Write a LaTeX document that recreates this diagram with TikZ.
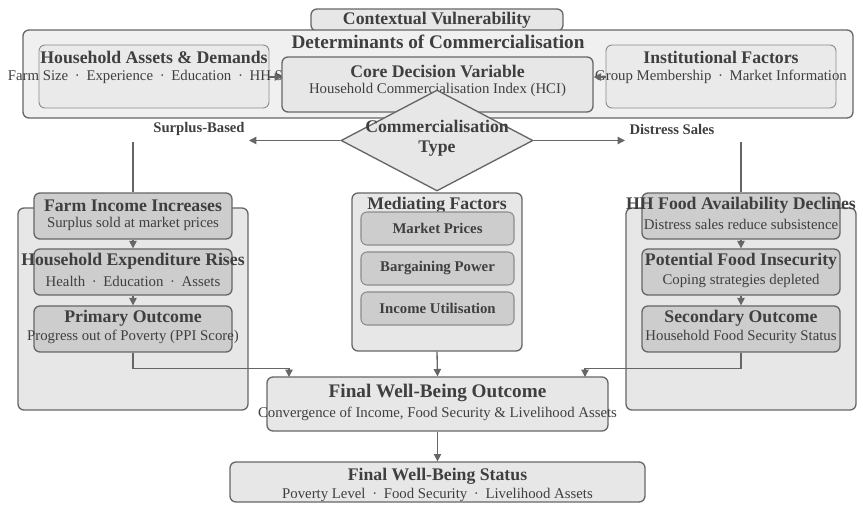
\documentclass[tikz,border=0pt]{standalone}
\usepackage{fontspec}
\setmainfont{Liberation Serif}
\usetikzlibrary{shapes.geometric, arrows.meta, positioning, calc}

\definecolor{edgegray}{HTML}{666666}
\definecolor{softgray}{HTML}{8C8C8C}
\definecolor{inkgray}{HTML}{3F3F3F}
\definecolor{panelfill}{HTML}{F0F0F0}
\definecolor{groupfill}{HTML}{E7E7E7}
\definecolor{stepfill}{HTML}{CDCDCD}

\newcommand{\dotsep}{\hspace{0.45em}·\hspace{0.45em}}

\begin{document}
\begin{tikzpicture}[x=0.75pt, y=-0.75pt,
    >={Triangle[length=5.5pt, width=5.5pt]},
    box/.style={draw=edgegray, line width=1pt, rounded corners=4.5pt, inner sep=0pt, fill=groupfill},
    softbox/.style={box, draw=softgray, line width=0.7pt, fill=groupfill!70!panelfill},
    stepbox/.style={box, fill=stepfill, minimum width=148.5pt, minimum height=34.5pt},
    medbox/.style={box, line width=0.8pt, draw=softgray, fill=stepfill, minimum width=114.75pt, minimum height=24.75pt,
        font=\fontsize{11.1}{13}\selectfont\bfseries, text=inkgray},
    bigtitle/.style={font=\fontsize{14.4}{16}\selectfont\bfseries, text=inkgray, inner sep=0pt, yshift=-1.2pt},
    title/.style={font=\fontsize{13.3}{15}\selectfont\bfseries, text=inkgray, inner sep=0pt, align=center, yshift=-1.2pt},
    sub/.style={font=\fontsize{11.1}{13}\selectfont, text=inkgray, inner sep=0pt, yshift=-1.5pt},
    branch/.style={font=\fontsize{11}{13}\selectfont\bfseries, text=inkgray, inner sep=0pt, yshift=-1pt},
    link/.style={draw=edgegray, line width=1pt}]

    \useasboundingbox (0,0) rectangle (863,505);

    % top band
    \node[box, minimum width=189pt, minimum height=16.5pt] (ctx) at (437,20) {};
    \node[title] (ctx-t) at (437,19) {Contextual Vulnerability};
    \node[box, fill=panelfill, minimum width=622.5pt, minimum height=66pt] (det) at (438,74) {};
    \node[bigtitle] (det-t) at (438,40) {Determinants of Commercialisation};

    \node[softbox, minimum width=172.5pt, minimum height=47.25pt] (assets) at (154,76.5) {};
    \node[title] (assets-t) at (154,56) {Household Assets \& Demands};
    \node[sub] (assets-s) at (154,75) {Farm Size\dotsep Experience\dotsep Education\dotsep HH Size};
    \node[softbox, minimum width=172.5pt, minimum height=47.25pt] (inst) at (721,76.5) {};
    \node[title] (inst-t) at (721,56) {Institutional Factors};
    \node[sub] (inst-s) at (721,75) {Group Membership\dotsep Market Information};

    \draw[link, ->] (assets.east |- assets-s) -- (assets-s -| 282,0);
    \node[box, minimum width=233.25pt, minimum height=41.25pt] (core) at (437.5,84.5) {};
    \node[title] (core-t) at (437.5,70) {Core Decision Variable};
    \node[sub] (core-s) at (437.5,88) {Household Commercialisation Index (HCI)};
    \draw[link, ->] (inst.west |- inst-s) -- (core.east |- inst-s);

    % decision split
    \node[diamond, draw=edgegray, line width=1pt, fill=groupfill, inner sep=0pt,
        minimum width=144pt, minimum height=75.75pt] (ctype) at (437,140.5) {};
    \node[title] (ctype-t) at (437,137) {Commercialisation\\Type};
    \coordinate (sb) at (249,140.5);
    \coordinate (ds) at (625,140.5);
    \draw[link, ->] (ctype.west) -- (sb);
    \draw[link, ->] (ctype.east) -- (ds);
    \node[branch] (sb-t) at (199,128) {Surplus-Based};
    \node[branch] (ds-t) at (672,128) {Distress Sales};
    \coordinate (sbtop) at (133,142);
    \coordinate (dstop) at (741,142);

    % surplus pathway
    \node[box, minimum width=172.5pt, minimum height=151.5pt] (lgrp) at (133,309) {};
    \node[stepbox] (farm) at (133,216) {};
    \node[title] (farm-t) at (133,204) {Farm Income Increases};
    \node[sub] (farm-s) at (133,222) {Surplus sold at market prices};
    \node[stepbox] (exp) at (133,272) {};
    \node[title] (exp-t) at (133,260) {Household Expenditure Rises};
    \node[sub] (exp-s) at (133,279) {Health\dotsep Education\dotsep Assets};
    \node[stepbox] (prim) at (133,329) {};
    \node[title] (prim-t) at (133,317) {Primary Outcome};
    \node[sub] (prim-s) at (133,335) {Progress out of Poverty (PPI Score)};
    \draw[link] (sbtop) -- (farm.north);
    \draw[link, ->] (farm.south) -- (exp.north);
    \draw[link, ->] (exp.south) -- (prim.north);

    % mediating factors
    \node[box, minimum width=127.5pt, minimum height=118.5pt] (med) at (437,272) {};
    \node[title] (med-t) at (437,204) {Mediating Factors};
    \node[medbox] (mp) at (437.5,228.5) {Market Prices};
    \node[medbox] (bp) at (437.5,268.5) {Bargaining Power};
    \node[medbox] (iu) at (437.5,308.5) {Income Utilisation};

    % distress pathway
    \node[box, minimum width=172.5pt, minimum height=151.5pt] (rgrp) at (741,309) {};
    \node[stepbox] (hhf) at (741,216) {};
    \node[title] (hhf-t) at (741,204) {HH Food Availability Declines};
    \node[sub] (hhf-s) at (741,222) {Distress sales reduce subsistence};
    \node[stepbox] (pfi) at (741,272) {};
    \node[title] (pfi-t) at (741,260) {Potential Food Insecurity};
    \node[sub] (pfi-s) at (741,279) {Coping strategies depleted};
    \node[stepbox] (sec) at (741,329) {};
    \node[title] (sec-t) at (741,317) {Secondary Outcome};
    \node[sub] (sec-s) at (741,335) {Household Food Security Status};
    \draw[link] (dstop) -- (hhf.north);
    \draw[link, ->] (hhf.south) -- (pfi.north);
    \draw[link, ->] (pfi.south) -- (sec.north);

    % outcomes
    \node[box, minimum width=255.75pt, minimum height=40.5pt] (fwo) at (437.5,404) {};
    \node[bigtitle] (fwo-t) at (437.5,391) {Final Well-Being Outcome};
    \node[sub] (fwo-s) at (437.5,412) {Convergence of Income, Food Security \& Livelihood Assets};
    \coordinate (fwoL) at (289,377);
    \coordinate (fwoR) at (585,377);
    \draw[link, ->] (prim.south) -- ++(0,16) -| (fwoL);
    \draw[link, ->] (sec.south) -- ++(0,16) -| (fwoR);
    \draw[link, ->] (med.south) -- (fwo.north);

    \node[box, minimum width=311.25pt, minimum height=30pt] (fws) at (437.5,482) {};
    \node[title] (fws-t) at (437.5,475) {Final Well-Being Status};
    \node[sub] (fws-s) at (437.5,493) {Poverty Level\dotsep Food Security\dotsep Livelihood Assets};
    \draw[link, ->] (fwo.south) -- (fws.north);
\end{tikzpicture}
\end{document}
